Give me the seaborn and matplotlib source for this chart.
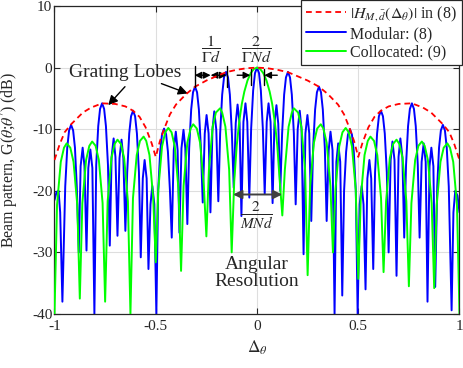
import matplotlib
matplotlib.use("Agg")
import matplotlib.pyplot as plt
import pandas as pd
import seaborn as sns

# ---------------- data ----------------
red_x = [-1.0, -0.975, -0.95, -0.918, -0.86, -0.82, -0.765, -0.7, -0.65, -0.612, -0.58, -0.55,
         -0.52, -0.5, -0.48, -0.459, -0.43, -0.4, -0.35, -0.306, -0.25, -0.2, -0.153, -0.1, -0.05,
         0.0,
         0.05, 0.1, 0.153, 0.2, 0.25, 0.306, 0.35, 0.4, 0.43, 0.459, 0.48, 0.5, 0.52, 0.55, 0.58,
         0.612, 0.65, 0.7, 0.765, 0.82, 0.86, 0.918, 0.95, 0.975, 1.0]
red_db = [-15.0, -12.5, -10.5, -9.2, -7.3, -6.5, -5.8, -5.9, -6.3, -7.0, -8.0, -9.7,
          -12.3, -14.5, -12.0, -10.0, -7.6, -6.0, -4.3, -3.1, -2.1, -1.4, -0.75, -0.35, -0.1,
          0.0,
          -0.1, -0.35, -0.75, -1.4, -2.1, -3.1, -4.3, -6.0, -7.6, -10.0, -12.0, -14.5, -12.3, -9.7, -8.0,
          -7.0, -6.3, -5.9, -5.8, -6.5, -7.3, -9.2, -10.5, -12.5, -15.0]

blue_x = [
    -1.000, -0.990, -0.980, -0.972, -0.961,
    -0.947, -0.937, -0.928, -0.918, -0.908, -0.899, -0.890, -0.880,
    -0.871, -0.861, -0.852, -0.842, -0.833, -0.823, -0.813, -0.803,
    -0.794, -0.784, -0.775, -0.765, -0.755, -0.746, -0.736, -0.727,
    -0.718, -0.708, -0.699, -0.689, -0.679, -0.669, -0.660, -0.650,
    -0.641, -0.631, -0.622, -0.612, -0.602, -0.593, -0.583, -0.574,
    -0.564, -0.555, -0.545, -0.536, -0.526, -0.517, -0.507, -0.497,
    -0.488, -0.478, -0.469, -0.459, -0.449, -0.440, -0.430, -0.421,
    -0.411, -0.401, -0.392, -0.383, -0.373, -0.363, -0.354, -0.344,
    -0.335, -0.325, -0.316, -0.306, -0.296, -0.287, -0.277, -0.268,
    -0.258, -0.249, -0.239, -0.230, -0.220, -0.211, -0.201, -0.191,
    -0.182, -0.172, -0.163, -0.153, -0.143, -0.134, -0.124, -0.115,
    -0.105, -0.096, -0.086, -0.077, -0.067, -0.057, -0.048, -0.038,
    -0.029, -0.019, -0.010, 0.000, 0.010, 0.019, 0.029, 0.038,
    0.048, 0.057, 0.067, 0.077, 0.086, 0.096, 0.105, 0.115,
    0.124, 0.134, 0.143, 0.153, 0.163, 0.172, 0.182, 0.191,
    0.201, 0.211, 0.220, 0.230, 0.239, 0.249, 0.258, 0.268,
    0.277, 0.287, 0.296, 0.306, 0.316, 0.325, 0.335, 0.344,
    0.354, 0.363, 0.373, 0.383, 0.392, 0.401, 0.411, 0.421,
    0.430, 0.440, 0.449, 0.459, 0.469, 0.478, 0.488, 0.497,
    0.507, 0.517, 0.526, 0.536, 0.545, 0.555, 0.564, 0.574,
    0.583, 0.593, 0.602, 0.612, 0.622, 0.631, 0.641, 0.650,
    0.660, 0.669, 0.679, 0.689, 0.699, 0.708, 0.718, 0.727,
    0.736, 0.746, 0.755, 0.765, 0.775, 0.784, 0.794, 0.803,
    0.813, 0.823, 0.833, 0.842, 0.852, 0.861, 0.871, 0.880,
    0.890, 0.899, 0.908, 0.918, 0.928, 0.937, 0.947, 0.961,
    0.970, 0.979, 0.990, 1.000]
blue_db = [
    -21.5, -20.2, -20.0, -23.5, -38.0,
    -19.3, -13.0, -10.2, -9.3, -10.2, -13.0, -19.3, -30.0,
    -16.0, -13.0, -16.0, -29.7, -16.3, -13.3, -16.3, -40.0,
    -15.8, -9.5, -6.7, -5.8, -6.7, -9.5, -15.8, -28.9,
    -14.5, -11.5, -14.5, -27.3, -14.7, -11.7, -14.7, -26.5,
    -17.0, -10.7, -7.9, -7.0, -7.9, -10.7, -17.0, -30.8,
    -18.0, -15.0, -18.0, -32.7, -22.2, -19.2, -22.2, -40.0,
    -19.9, -13.6, -10.8, -9.9, -10.8, -13.6, -19.9, -27.6,
    -13.4, -10.4, -13.4, -26.8, -13.1, -10.1, -13.1, -25.4,
    -13.1, -6.8, -4.0, -3.1, -4.0, -6.8, -13.1, -21.9,
    -10.7, -7.7, -10.7, -23.5, -10.1, -7.1, -10.1, -21.7,
    -10.7, -4.4, -1.6, -0.7, -1.6, -4.4, -10.7, -19.5,
    -9.0, -6.0, -9.0, -24.1, -8.8, -5.8, -8.8, -21.1,
    -10.0, -3.7, -0.9, 0.0, -0.9, -3.7, -10.0, -20.5,
    -8.8, -5.8, -8.8, -22.0, -9.1, -6.1, -9.1, -20.0,
    -10.7, -4.4, -1.6, -0.7, -1.6, -4.4, -10.7, -22.2,
    -10.0, -7.0, -10.0, -30.3, -10.7, -7.7, -10.7, -24.9,
    -13.1, -6.8, -4.0, -3.1, -4.0, -6.8, -13.1, -24.9,
    -13.4, -10.4, -13.4, -40.0, -15.3, -12.3, -15.3, -37.0,
    -20.0, -13.7, -10.9, -10.0, -10.9, -13.7, -20.0, -40.0,
    -22.2, -19.2, -22.2, -36.0, -18.0, -15.0, -18.0, -32.7,
    -17.0, -10.7, -7.9, -7.0, -7.9, -10.7, -17.0, -30.0,
    -15.0, -12.0, -15.0, -33.8, -14.5, -11.5, -14.5, -27.6,
    -15.8, -9.5, -6.7, -5.8, -6.7, -9.5, -15.8, -27.6,
    -15.3, -12.3, -15.3, -38.0, -16.0, -13.0, -16.0, -35.6,
    -19.3, -13.0, -10.2, -9.3, -10.2, -13.0, -19.3, -39.4,
    -23.5, -20.0, -20.8, -23.5]

green_x = [
    -1.0, -0.9875, -0.969, -0.953, -0.940, -0.922, -0.906, -0.8875,
    -0.875, -0.8625, -0.844, -0.828, -0.814, -0.797, -0.781, -0.7625,
    -0.75, -0.7375, -0.719, -0.703, -0.689, -0.672, -0.656, -0.6375,
    -0.625, -0.6125, -0.594, -0.578, -0.560, -0.547, -0.531, -0.5125,
    -0.5, -0.4875, -0.469, -0.453, -0.438, -0.422, -0.406, -0.3875,
    -0.375, -0.3625, -0.344, -0.328, -0.315, -0.297, -0.281, -0.2625,
    -0.25, -0.2375, -0.219, -0.203, -0.182, -0.172, -0.156, -0.1375,
    -0.125, -0.1125, -0.1, -0.0875, -0.075, -0.0625, -0.047, -0.031, -0.0156,
    0.0,
    0.0156, 0.031, 0.047, 0.0625, 0.075, 0.0875, 0.1, 0.1125, 0.125,
    0.1375, 0.156, 0.172, 0.182, 0.203, 0.219, 0.2375, 0.25,
    0.2625, 0.281, 0.297, 0.315, 0.328, 0.344, 0.3625, 0.375,
    0.3875, 0.406, 0.422, 0.438, 0.453, 0.469, 0.4875, 0.5,
    0.5125, 0.531, 0.547, 0.560, 0.578, 0.594, 0.6125, 0.625,
    0.6375, 0.656, 0.672, 0.689, 0.703, 0.719, 0.7375, 0.75,
    0.7625, 0.781, 0.797, 0.814, 0.828, 0.844, 0.8625, 0.875,
    0.8875, 0.906, 0.922, 0.940, 0.953, 0.969, 0.9875, 1.0]
green_db = [
    -40.0, -22.3, -15.3, -13.0, -12.3, -13.0, -15.3, -22.3,
    -37.5, -22.0, -15.0, -12.7, -12.0, -12.7, -15.0, -22.0,
    -38.0, -21.7, -14.7, -12.4, -11.7, -12.4, -14.7, -21.7,
    -40.0, -21.2, -14.2, -11.9, -11.2, -11.9, -14.2, -21.2,
    -31.6, -19.8, -12.8, -10.5, -9.8, -10.5, -12.8, -19.8,
    -33.0, -19.2, -12.2, -9.9, -9.2, -9.9, -12.2, -19.2,
    -27.4, -16.6, -9.6, -7.3, -6.6, -7.3, -9.6, -16.6,
    -30.0, -18.5, -12.6, -8.7, -5.9, -3.9, -2.1, -0.9, -0.22,
    0.0,
    -0.22, -0.9, -2.1, -3.9, -5.9, -8.7, -12.6, -18.5, -24.0,
    -16.6, -9.6, -7.3, -6.6, -7.3, -9.6, -16.6, -33.7,
    -19.2, -12.2, -9.9, -9.2, -9.9, -12.2, -19.2, -30.0,
    -19.8, -12.8, -10.5, -9.8, -10.5, -12.8, -19.8, -34.3,
    -21.2, -14.2, -11.9, -11.2, -11.9, -14.2, -21.2, -33.2,
    -21.7, -14.7, -12.4, -11.7, -12.4, -14.7, -21.7, -35.5,
    -22.0, -15.0, -12.7, -12.0, -12.7, -15.0, -22.0, -35.8,
    -22.3, -15.3, -13.0, -12.3, -13.0, -15.3, -22.3, -40.0]

series_labels = [r"$|H_{M,\bar{d}}(\Delta_\theta)|$ in (8)", "Modular: (8)", "Collocated: (9)"]
xticks = [-1, -0.5, 0, 0.5, 1]
xtick_labels = ["-1", "-0.5", "0", "0.5", "1"]
yticks = [-40, -30, -20, -10, 0, 10]
ytick_labels = ["-40", "-30", "-20", "-10", "0", "10"]

# ---------------- style ----------------
sns.set_style("whitegrid")
plt.rcParams["font.family"] = ["Liberation Serif", "DejaVu Serif"]
plt.rcParams["mathtext.fontset"] = "stix"
plt.rcParams["axes.unicode_minus"] = False

fig = plt.figure(figsize=(4.64, 3.68), dpi=100)
# axes: left px 54.5, right px 459.5, top px 6, bottom px 314
ax = fig.add_axes([54.5 / 464, 1 - 314 / 368, 405 / 464, 308 / 368])

df_red = pd.DataFrame({"x": red_x, "db": red_db})
df_blue = pd.DataFrame({"x": blue_x, "db": blue_db})
df_green = pd.DataFrame({"x": green_x, "db": green_db})

sns.lineplot(data=df_blue, x="x", y="db", ax=ax, color=(0, 0, 1), lw=1.4,
             estimator=None, sort=False, label=series_labels[1], zorder=2)
sns.lineplot(data=df_green, x="x", y="db", ax=ax, color=(0, 1, 0), lw=1.4,
             estimator=None, sort=False, label=series_labels[2], zorder=3)
sns.lineplot(data=df_red, x="x", y="db", ax=ax, color=(1, 0, 0), lw=1.3,
             estimator=None, sort=False, label=series_labels[0], zorder=4)
red_line = ax.get_lines()[-1]
red_line.set_dashes((3.2, 2.2))

ax.set_xlim(-1, 1)
ax.set_ylim(-40, 10)
ax.set_xticks(xticks)
ax.set_xticklabels(xtick_labels)
ax.set_yticks(yticks)
ax.set_yticklabels(ytick_labels)
ax.grid(True, color="#dedede", lw=0.8)
for s in ax.spines.values():
    s.set_color("#262626")
    s.set_linewidth(0.9)
    s.set_visible(True)
ax.tick_params(axis="both", direction="in", length=4, width=0.8, color="#262626",
               labelcolor="#262626", labelsize=11, top=True, right=True,
               bottom=True, left=True)
ax.tick_params(axis="y", pad=1.5)
ax.tick_params(axis="x", pad=4)
ax.set_xlabel(r"$\Delta_\theta$", fontsize=12.5, color="#262626", labelpad=4)
ax.set_ylabel(r"Beam pattern, G($\theta$;$\theta^{\prime}$) (dB)", fontsize=11.5,
              color="#262626", labelpad=9)

handles, labels = ax.get_legend_handles_labels()
order = [labels.index(l) for l in series_labels]
leg = ax.legend([handles[i] for i in order], [labels[i] for i in order],
                loc="upper right", bbox_to_anchor=(1.006, 1.02), fontsize=11.5,
                frameon=True, fancybox=False, framealpha=1, edgecolor="#262626",
                borderpad=0.3, labelspacing=0.15, handlelength=2.5,
                handletextpad=0.25, borderaxespad=0)
leg.get_frame().set_linewidth(0.9)
leg.set_zorder(10)

# ---------------- annotations ----------------
ax.text(-0.649, -1.6, "Grating Lobes", fontsize=14, ha="center", va="baseline")
arrow_kw = dict(arrowstyle="-|>", color="k", lw=1.0, mutation_scale=14,
                shrinkA=0, shrinkB=0)
ax.annotate("", xy=(-0.735, -6.1), xytext=(-0.652, -3.1), arrowprops=arrow_kw)
ax.annotate("", xy=(-0.342, -4.2), xytext=(-0.472, -2.6), arrowprops=arrow_kw)

# 1/(Gamma d) dimension
for xb in (-0.308, -0.150):
    ax.plot([xb, xb], [0.2, -3.1], color="k", lw=1.0, zorder=6)
dbl_kw = dict(arrowstyle="<|-|>", color="k", lw=1.0, mutation_scale=10,
              shrinkA=0, shrinkB=0)
ax.annotate("", xy=(-0.308, -1.24), xytext=(-0.229, -1.24), arrowprops=dbl_kw)
ax.annotate("", xy=(-0.229, -1.24), xytext=(-0.150, -1.24), arrowprops=dbl_kw)
ax.text(-0.227, 3.0, r"$\dfrac{1}{\Gamma d}$", fontsize=11.5, ha="center", va="center")

# 2/(Gamma N d) dimension
for xb in (-0.031, 0.034):
    ax.plot([xb, xb], [-0.2, -2.9], color="k", lw=1.0, zorder=6)
one_kw = dict(arrowstyle="-|>", color="k", lw=1.0, mutation_scale=10,
              shrinkA=0, shrinkB=0)
ax.annotate("", xy=(-0.033, -1.24), xytext=(-0.098, -1.24), arrowprops=one_kw)
ax.annotate("", xy=(0.036, -1.24), xytext=(0.100, -1.24), arrowprops=one_kw)
ax.text(-0.006, 3.0, r"$\dfrac{2}{\Gamma N d}$", fontsize=11.5, ha="center", va="center")

# angular resolution
ax.annotate("", xy=(-0.118, -20.6), xytext=(0.124, -20.6),
            arrowprops=dict(arrowstyle="<|-|>", color="#404040", lw=1.4,
                            mutation_scale=13, shrinkA=0, shrinkB=0))
ax.text(0.0, -24.0, r"$\dfrac{2}{MNd}$", fontsize=11, ha="center", va="center")
ax.text(0.0, -33.4, "Angular\nResolution", fontsize=14, ha="center", va="center",
        linespacing=1.0)

fig.savefig("out.png", dpi=100)
